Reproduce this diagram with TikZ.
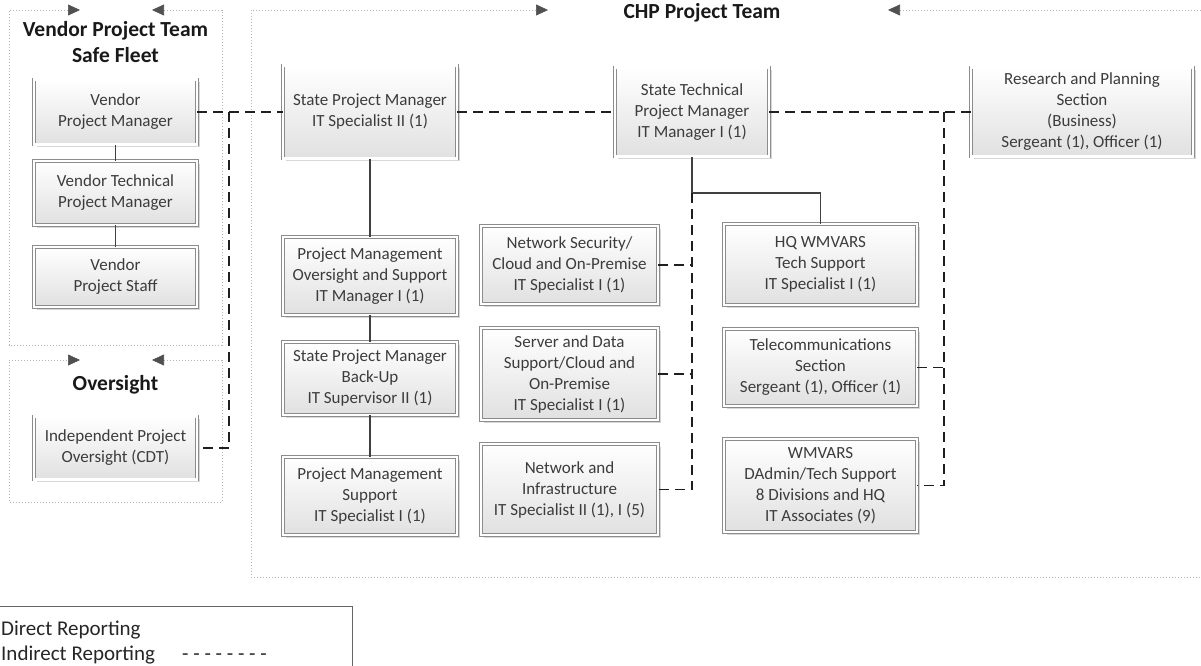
\documentclass[tikz,border=0pt]{standalone}
\usepackage{fontspec}
\setmainfont{Carlito}
\usetikzlibrary{arrows.meta,shadows,calc}
\definecolor{txt}{HTML}{3C3C3C}
\definecolor{grpline}{HTML}{B4B4B4}
\definecolor{tipc}{HTML}{505050}
\begin{document}
\begin{tikzpicture}[x=1pt,y=-1pt,
  obox/.style={draw=black!45, line width=0.7pt, double=white, double distance=2.2pt,
    top color=white, bottom color=black!12,
    drop shadow={shadow xshift=2.5pt, shadow yshift=-2.5pt, fill=black!35, opacity=0.45},
    align=center, text=txt, font=\fontsize{17}{21}\selectfont, inner sep=2pt},
  ttl/.style={font=\bfseries\fontsize{21.5}{26}\selectfont, text=black!90, inner sep=0pt, anchor=base},
  lgd/.style={font=\fontsize{21}{26}\selectfont, text=black!85, inner sep=0pt, anchor=base west},
  direct/.style={draw=black!75, line width=1.6pt},
  indirect/.style={draw=black!88, line width=1.8pt, dash pattern=on 10pt off 6pt},
  grp/.style={draw=grpline, line width=0.6pt, dash pattern=on 1.5pt off 1.5pt,
    {Triangle[length=12pt,width=11pt,color=tipc]}-{Triangle[length=12pt,width=11pt,color=tipc]}},
  legendbox/.style={draw=black!60, line width=1pt}
]
\useasboundingbox (0,0) rectangle (1201,666);

% group containers
\draw[grp] (152,10) -- (222,10) -- (222,345) -- (9,345) -- (9,10) -- (80,10);
\draw[grp] (152,360) -- (222,360) -- (222,502) -- (9,502) -- (9,360) -- (80,360);
\draw[grp] (888,10) -- (1215,10) -- (1215,577) -- (251,577) -- (251,10) -- (548,10);

% titles
\node[ttl] (vt1) at (115.5,37) {Vendor Project Team};
\node[ttl] (vt2) at (115.5,63) {Safe Fleet};
\node[ttl] (ovt) at (115.5,390) {Oversight};
\node[ttl] (cht) at (702,19) {CHP Project Team};

% vendor boxes
\node[obox, minimum width=163pt, minimum height=65pt] (vpm) at (115.5,112) {Vendor\\Project Manager};
\node[obox, minimum width=163pt, minimum height=64pt] (vtpm) at (115.5,193) {Vendor Technical\\Project Manager};
\node[obox, minimum width=163pt, minimum height=60pt] (vps) at (115.5,277) {Vendor\\Project Staff};
\node[obox, minimum width=163pt, minimum height=63pt] (ipo) at (115.5,448) {Independent Project\\Oversight (CDT)};

% CHP boxes
\node[obox, minimum width=174pt, minimum height=93pt] (spm) at (370,112) {State Project Manager\\IT Specialist II (1)};
\node[obox, minimum width=174pt, minimum height=78pt] (pmo) at (370,276) {Project Management\\Oversight and Support\\IT Manager I (1)};
\node[obox, minimum width=174pt, minimum height=73pt] (bku) at (370,378.5) {State Project Manager\\Back-Up\\IT Supervisor II (1)};
\node[obox, minimum width=174pt, minimum height=78pt] (pms) at (370,496) {Project Management\\Support\\IT Specialist I (1)};

\node[obox, minimum width=177pt, minimum height=78pt] (nsc) at (569.5,265) {Network Security/\\Cloud and On-Premise\\IT Specialist I (1)};
\node[obox, minimum width=177pt, minimum height=92pt] (sdc) at (569.5,374) {Server and Data\\Support/Cloud and\\On-Premise\\IT Specialist I (1)};
\node[obox, minimum width=177pt, minimum height=91pt] (nin) at (569.5,489.5) {Network and\\Infrastructure\\IT Specialist II (1), I (5)};

\node[obox, minimum width=154pt, minimum height=89pt] (stpm) at (692,112) {State Technical\\Project Manager\\IT Manager I (1)};
\node[obox, minimum width=193pt, minimum height=81pt] (hq) at (820.5,264.5) {HQ WMVARS\\Tech Support\\IT Specialist I (1)};
\node[obox, minimum width=193pt, minimum height=77pt] (tel) at (820.5,367.5) {Telecommunications\\Section\\Sergeant (1), Officer (1)};
\node[obox, minimum width=193pt, minimum height=93pt] (wmv) at (820.5,485.5) {WMVARS\\DAdmin/Tech Support\\8 Divisions and HQ\\IT Associates (9)};
\node[obox, minimum width=222pt, minimum height=89pt] (rps) at (1082,112) {Research and Planning\\Section\\(Business)\\Sergeant (1), Officer (1)};

% junctions
\coordinate (j0) at (229,112);
\coordinate (j1) at (692,193);
\coordinate (j2) at (944,112);

% direct reporting
\draw[direct] (vpm) -- (vtpm);
\draw[direct] (vtpm) -- (vps);
\draw[direct] (spm) -- (pmo);
\draw[direct] (pmo) -- (bku);
\draw[direct] (bku) -- (pms);
\draw[direct] (stpm.south) -- (j1) -| (hq.north);

% indirect reporting
\draw[indirect] (vpm.east) -- (spm.west);
\draw[indirect] (j0) |- (ipo.east);
\draw[indirect] (spm.east) -- (stpm.west);
\draw[indirect] (stpm.east) -- (rps.west);
\draw[indirect] (j1) |- (nin.east);
\draw[indirect] (nsc.east) -- (nsc.east -| j1);
\draw[indirect] (sdc.east) -- (sdc.east -| j1);
\draw[indirect] (j2) |- (wmv.east);
\draw[indirect] (tel.east) -- (tel.east -| j2);

% legend
\draw[legendbox] (-5,606) rectangle (352,672);
\node[lgd] (ld) at (1,635) {Direct Reporting};
\node[lgd] (li) at (1,660) {Indirect Reporting};
\node[lgd] (lds) at (182,660) {- - - - - - - -};
\end{tikzpicture}
\end{document}
